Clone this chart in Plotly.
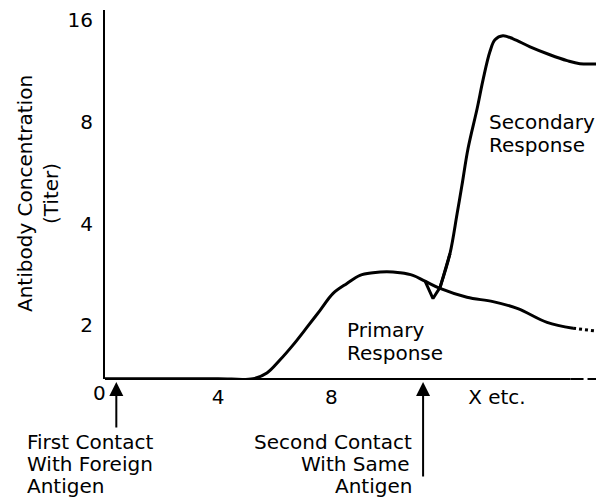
import math
import plotly.graph_objects as go

# ---- data (days, antibody titer) ----
primary_days = [0, 2, 4, 5.23, 5.72, 6.18, 6.64, 7.14, 7.6, 8.06, 8.55, 9.01, 9.47, 9.96, 10.42, 10.88, 11.31, 11.84, 12.79, 13.71, 14.59, 15.62, 16.54]
primary_vals = [1.39, 1.39, 1.39, 1.39, 1.445, 1.578, 1.747, 1.974, 2.214, 2.485, 2.66, 2.81, 2.86, 2.88, 2.86, 2.81, 2.70, 2.57, 2.42, 2.35, 2.24, 2.04, 1.96]
primary_tail_days = [16.54, 17.0, 17.4]
primary_tail_vals = [1.96, 1.94, 1.92]
secondary_days = [11.31, 11.59, 11.84, 12.19, 12.44, 12.61, 12.83, 13.15, 13.36, 13.6, 13.78, 14.06, 14.42, 15.02, 15.72, 16.33, 16.78, 17.56]
secondary_vals = [2.70, 2.40, 2.59, 3.26, 4.27, 5.17, 6.68, 8.76, 10.66, 12.89, 13.98, 14.37, 14.08, 13.33, 12.63, 12.13, 11.88, 11.88]
contact_days = [0.4, 11.24]
x_tick_vals = [4, 8, 13.85]
x_tick_text = ["4", "8", "X etc."]
y_tick_vals = [2, 4, 8, 16]
y_tick_text = ["2", "4", "8", "16"]

FONT = "DejaVu Sans"
FS = 20
OFF = 8                      # page body margin of the html page
WIN_W, WIN_H = 604, 499
W, H = WIN_W - OFF, WIN_H - OFF
PLOT_L, PLOT_T, PLOT_R, PLOT_B = 105, 8, 604, 379   # plot area, window pixels
L, T = PLOT_L - OFF, PLOT_T - OFF
R, B = W - (PLOT_R - OFF), H - (PLOT_B - OFF)
PW, PH = W - L - R, H - T - B


def pxx(p):
    return (p - PLOT_L) / PW


def pxy(p):
    return (PLOT_B - p) / PH


fig = go.Figure()
fig.add_trace(go.Scatter(x=primary_days, y=primary_vals, mode="lines",
                         line=dict(color="black", width=3, shape="spline", smoothing=1.0),
                         hoverinfo="skip", showlegend=False))
fig.add_trace(go.Scatter(x=primary_tail_days, y=primary_tail_vals, mode="lines",
                         line=dict(color="black", width=3, dash="dot"),
                         hoverinfo="skip", showlegend=False))
# notch (sharp V) drawn linear, rest of the secondary curve smoothed
fig.add_trace(go.Scatter(x=secondary_days[:4], y=secondary_vals[:4], mode="lines",
                         line=dict(color="black", width=3),
                         hoverinfo="skip", showlegend=False))
fig.add_trace(go.Scatter(x=secondary_days[2:], y=secondary_vals[2:], mode="lines",
                         line=dict(color="black", width=3, shape="spline", smoothing=1.0),
                         hoverinfo="skip", showlegend=False))

ann = []


def text(t, x, y, xa="left", size=FS):
    ann.append(dict(text=t, x=pxx(x), y=pxy(y), xref="paper", yref="paper",
                    xanchor=xa, yanchor="middle", showarrow=False, borderpad=0,
                    font=dict(family=FONT, size=size, color="black")))


text("Primary", 346, 330)
text("Response", 346, 353)
text("Secondary", 488, 121)
text("Response", 488, 144)
text("First Contact", 26, 442)
text("With Foreign", 26, 464.5)
text("Antigen", 26, 487)
text("Second Contact", 413, 442, "right")
text("With Same", 411, 464.5, "right")
text("Antigen", 413, 487, "right")
text("0", 99, 393, "center")

ann.append(dict(text="Antibody Concentration<br>(Titer)", x=pxx(38), y=pxy(193),
                xref="paper", yref="paper", xanchor="center", yanchor="middle",
                textangle=-90, showarrow=False,
                font=dict(family=FONT, size=FS, color="black")))

tails = [429, 478]
for d, tail in zip(contact_days, tails):
    ann.append(dict(text="", x=d, y=pxy(382), xref="x", yref="paper",
                    ax=0, ay=tail - 382, showarrow=True, arrowhead=2,
                    arrowsize=1.4, arrowwidth=2, arrowcolor="black"))

x_end = PW / 28.3
shapes = [
    dict(type="line", xref="x", yref="paper", x0=0, x1=16.45, y0=0, y1=0,
         line=dict(color="black", width=2)),
    dict(type="line", xref="x", yref="paper", x0=16.45, x1=x_end, y0=0, y1=0,
         line=dict(color="black", width=2, dash="13px,4px")),
]

fig.update_layout(
    width=W, height=H, margin=dict(l=L, r=R, t=T, b=B, pad=0),
    paper_bgcolor="white", plot_bgcolor="white",
    font=dict(family=FONT, size=FS, color="black"),
    annotations=ann, shapes=shapes, showlegend=False,
    xaxis=dict(range=[0, x_end], tickvals=x_tick_vals, ticktext=x_tick_text,
               showgrid=False, zeroline=False, showline=False, ticks="",
               ticklabelstandoff=4, ticklabeloverflow="allow",
               tickfont=dict(family=FONT, size=FS)),
    yaxis=dict(type="log", range=[math.log10(1.387), math.log10(17.13)],
               tickvals=y_tick_vals, ticktext=y_tick_text,
               showgrid=False, zeroline=False, showline=True, linecolor="black",
               linewidth=2, ticks="", ticklabelstandoff=6,
               ticklabeloverflow="allow",
               tickfont=dict(family=FONT, size=FS)),
)

fig.write_html("out.html")
